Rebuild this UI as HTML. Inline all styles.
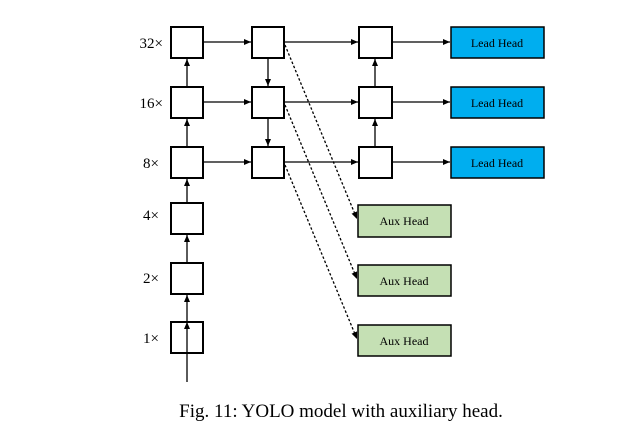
<!DOCTYPE html>
<html><head><style>body{margin:0;background:#fff} svg text{font-family:"Liberation Serif","Times New Roman",serif}</style></head><body>
<svg width="636" height="443" xmlns="http://www.w3.org/2000/svg" style="font-family:'Liberation Serif',serif">
<defs><marker id="a" markerWidth="8" markerHeight="8" refX="7" refY="4" orient="auto" markerUnits="userSpaceOnUse"><path d="M0,1 L7,4 L0,7 Z" fill="#000"/></marker></defs>
<g stroke="#000" stroke-width="2" fill="#fff">
<rect x="171" y="27" width="32" height="31"/><rect x="171" y="87" width="32" height="31"/><rect x="171" y="147" width="32" height="31"/>
<rect x="171" y="203" width="32" height="31"/><rect x="171" y="263" width="32" height="31"/><rect x="171" y="322" width="32" height="31"/>
<rect x="252" y="27" width="32" height="31"/><rect x="252" y="87" width="32" height="31"/><rect x="252" y="147" width="32" height="31"/>
<rect x="359" y="27" width="33" height="31"/><rect x="359" y="87" width="33" height="31"/><rect x="359" y="147" width="33" height="31"/>
</g>
<g stroke="#000" stroke-width="1.5">
<rect x="451" y="27" width="93" height="31" fill="#00aeef"/><rect x="451" y="87" width="93" height="31" fill="#00aeef"/><rect x="451" y="147" width="93" height="31" fill="#00aeef"/>
<rect x="358" y="205" width="93" height="32" fill="#c5e0b4"/><rect x="358" y="265" width="93" height="31" fill="#c5e0b4"/><rect x="358" y="325" width="93" height="31" fill="#c5e0b4"/>
</g>
<g stroke="#000" stroke-width="1.3" fill="none" marker-end="url(#a)">
<line x1="187" y1="382" x2="187" y2="322"/>
<line x1="187" y1="262" x2="187" y2="235"/>
<line x1="187" y1="321" x2="187" y2="295"/>
<line x1="187" y1="202" x2="187" y2="179"/>
<line x1="187" y1="146" x2="187" y2="119"/>
<line x1="187" y1="86" x2="187" y2="59"/>
<line x1="204" y1="42" x2="251" y2="42"/>
<line x1="204" y1="102" x2="251" y2="102"/>
<line x1="204" y1="162" x2="251" y2="162"/>
<line x1="268" y1="59" x2="268" y2="86"/>
<line x1="268" y1="119" x2="268" y2="146"/>
<line x1="285" y1="42" x2="358" y2="42"/>
<line x1="285" y1="102" x2="358" y2="102"/>
<line x1="285" y1="162" x2="358" y2="162"/>
<line x1="375" y1="146" x2="375" y2="119"/>
<line x1="375" y1="86" x2="375" y2="59"/>
<line x1="393" y1="42" x2="450" y2="42"/>
<line x1="393" y1="102" x2="450" y2="102"/>
<line x1="393" y1="162" x2="450" y2="162"/>
<g stroke-dasharray="2.5,2"><line x1="285" y1="45" x2="357" y2="219"/>
<line x1="285" y1="105" x2="357" y2="279"/>
<line x1="285" y1="165" x2="357" y2="339"/></g>
</g>
<g font-size="12" text-anchor="middle" fill="#000" font-family="Liberation Serif, serif">
<text x="497" y="47">Lead Head</text><text x="497" y="107">Lead Head</text><text x="497" y="167">Lead Head</text>
<text x="404" y="225">Aux Head</text><text x="404" y="285">Aux Head</text><text x="404" y="345">Aux Head</text>
</g>
<g font-size="15" text-anchor="end" fill="#000" font-family="Liberation Serif, serif">
<text x="163" y="48">32×</text><text x="163" y="108">16×</text><text x="159" y="168">8×</text>
<text x="159" y="220">4×</text><text x="159" y="283">2×</text><text x="159" y="343">1×</text>
</g>
<text x="341" y="417" font-size="19" text-anchor="middle" font-family="Liberation Serif, serif">Fig. 11: YOLO model with auxiliary head.</text>
</svg>
</body></html>
